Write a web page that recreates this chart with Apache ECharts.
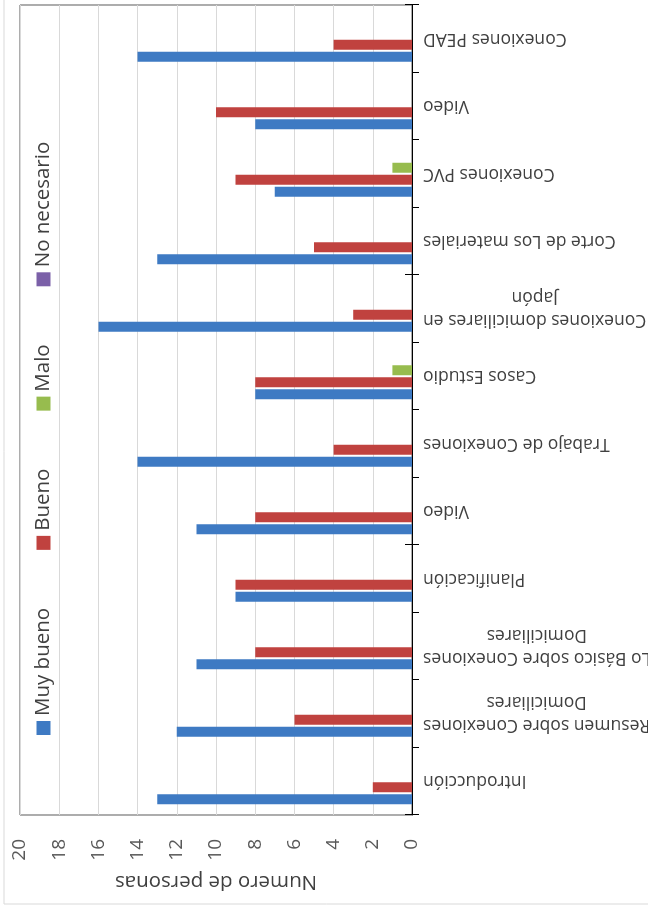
<!DOCTYPE html>
<html>
<head>
<meta charset="utf-8">
<script src="https://cdn.jsdelivr.net/npm/echarts@6/dist/echarts.min.js"></script>
<style>
  html, body { margin: 0; padding: 0; background: #ffffff; overflow: hidden; }
  #stage { position: relative; width: 648px; height: 905px; overflow: hidden; background: #ffffff; }
  /* The column chart is laid out landscape and turned a quarter turn counter-clockwise. */
  #chart {
    position: absolute; left: 0; top: 0;
    width: 905px; height: 648px;
    transform-origin: 0 0;
    transform: translate(0px, 905px) rotate(-90deg);
  }
</style>
</head>
<body>
<div id="stage"><div id="chart"></div></div>
<script>
// Evaluated sessions of the course, in presentation order
const categories = [
  'Introducción',
  'Resumen sobre Conexiones\nDomiciliares',
  'Lo Básico sobre Conexiones\nDomiciliares',
  'Planificación',
  'Video',
  'Trabajo de Conexiones',
  'Casos Estudio',
  'Conexiones domiciliares en\nJapón',
  'Corte de Los materiales',
  'Conexiones PVC',
  'Video',
  'Conexiones PEAD'
];

// Number of people per rating
const muyBueno    = [13, 12, 11, 9, 11, 14, 8, 16, 13, 7, 8, 14];
const bueno       = [2, 6, 8, 9, 8, 4, 8, 3, 5, 9, 10, 4];
const malo        = [0, 0, 0, 0, 0, 0, 1, 0, 0, 1, 0, 0];
const noNecesario = [0, 0, 0, 0, 0, 0, 0, 0, 0, 0, 0, 0];

const seriesNames = ['Muy bueno', 'Bueno', 'Malo', 'No necesario'];
const seriesColors = ['#3E7AC3', '#C0423F', '#97BC4E', '#7B60A8'];

// Value axis ticks
const valueMin = 0;
const valueMax = 20;
const valueStep = 2;

const FONT = '"Open Sans", "Noto Sans", sans-serif';
const W = 905, H = 648;
const grid = { left: 90, right: 5, top: 20, bottom: 236 };
const gridHeight = H - grid.top - grid.bottom;

const chart = echarts.init(document.getElementById('chart'), null, { width: W, height: H, renderer: 'canvas' });

const values = [muyBueno, bueno, malo, noNecesario];

const option = {
  backgroundColor: '#ffffff',
  animation: false,
  textStyle: { fontFamily: FONT },
  graphic: [{
    type: 'rect',
    silent: true,
    shape: { x: 1, y: 4, width: 2000, height: 2000 },
    style: { fill: 'none', stroke: '#d9d9d9', lineWidth: 1 }
  }],
  legend: {
    left: 165,
    top: 28,
    icon: 'rect',
    itemWidth: 14,
    itemHeight: 14,
    itemGap: 58,
    textStyle: { fontSize: 20.5, color: '#404040', fontFamily: FONT },
    data: seriesNames
  },
  grid: {
    left: grid.left, right: grid.right, top: grid.top, bottom: grid.bottom,
    outerBoundsMode: 'none',
    containLabel: false,
    show: true,
    borderColor: '#5a5a5a',
    borderWidth: 1,
    backgroundColor: 'transparent'
  },
  xAxis: [{
    type: 'category',
    data: categories,
    position: 'bottom',
    axisLine: { show: true, lineStyle: { color: '#000000', width: 1 } },
    axisTick: { show: true, inside: false, length: 7, lineStyle: { color: '#000000' } },
    axisLabel: {
      interval: 0,
      rotate: 90,
      margin: 11,
      color: '#404040',
      fontSize: 17.5,
      fontFamily: FONT,
      hideOverlap: false,
      formatter: function (v) {
        return v.split('\n').map(function (l) { return '{c|' + l + '}'; }).join('\n');
      },
      rich: {
        c: { align: 'center', fontSize: 17.5, lineHeight: 23, color: '#404040', fontFamily: FONT }
      }
    }
  }, {
    // Inner half of the cross tick marks on the category axis
    type: 'category',
    data: categories,
    position: 'top',
    offset: -gridHeight,
    axisLine: { show: false },
    axisTick: { show: true, inside: false, length: 7, lineStyle: { color: '#000000' } },
    axisLabel: { show: false }
  }],
  yAxis: {
    type: 'value',
    min: valueMin,
    max: valueMax,
    interval: valueStep,
    name: 'Numero de personas',
    nameLocation: 'middle',
    nameRotate: 90,
    nameGap: 50,
    nameTextStyle: { fontSize: 20.5, color: '#404040', fontFamily: FONT },
    axisLine: { show: false },
    axisTick: { show: false },
    axisLabel: { margin: 24, fontSize: 19, color: '#595959', fontFamily: FONT },
    splitLine: { show: true, lineStyle: { color: '#d9d9d9', width: 1 } }
  },
  series: seriesNames.map(function (name, i) {
    return {
      name: name,
      type: 'bar',
      xAxisIndex: 0,
      data: values[i],
      barWidth: 10,
      barGap: '20%',
      itemStyle: { color: seriesColors[i] }
    };
  })
};

chart.setOption(option);
</script>
</body>
</html>
